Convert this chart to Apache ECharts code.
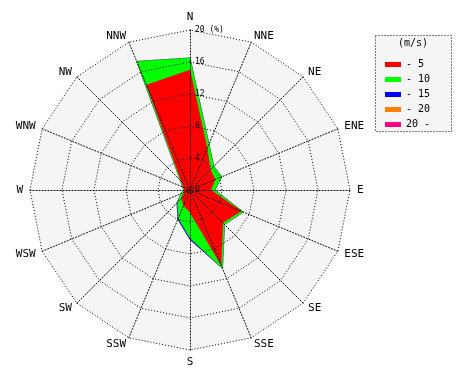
<!DOCTYPE html>
<html>
<head>
<meta charset="utf-8">
<script src="https://cdn.jsdelivr.net/npm/echarts@6/dist/echarts.min.js"></script>
<style>html,body{margin:0;padding:0;background:#fff}#c{width:470px;height:380px}</style>
</head>
<body>
<div id="c"></div>
<script>
// Directions, clockwise from north
const directions = ['N','NNE','NE','ENE','E','ESE','SE','SSE','S','SSW','SW','WSW','W','WNW','NW','NNW'];
// Frequency (%) per speed class (not cumulative)
const speed0to5   = [15.0, 5.6, 3.6, 3.4, 2.6, 6.9, 5.8, 10.1, 2.8, 2.1, 1.5, 0.8, 0.7, 0.85, 1.5, 14.2];
const speed5to10  = [ 1.5, 0.6, 0.6, 0.9, 0.5, 0.3, 0.3,  0.5, 3.2, 1.7, 0.7, 0.4, 0.1, 0.15, 0.2,  3.2];
const speed10to15 = [ 0.0, 0.0, 0.0, 0.0, 0.0, 0.0, 0.0,  0.0, 0.2, 0.15,0.1, 0.0, 0.0, 0.0,  0.0,  0.0];
const speed15to20 = [ 0,0,0,0,0,0,0,0,0,0,0,0,0,0,0,0];
const speed20plus = [ 0,0,0,0,0,0,0,0,0,0,0,0,0,0,0,0];
const classNames = ['- 5','- 10','- 15','- 20','20 -'];
const classColors = ['#ff0000','#00ff00','#0000ff','#ff8000','#ff0080'];
const radialTicks = [0, 4, 8, 12, 16, 20];
const maxPct = 20;

const classes = [speed0to5, speed5to10, speed10to15, speed15to20, speed20plus];
// stack cumulatively
const cum = [];
let run = directions.map(() => 0);
classes.forEach(arr => { run = run.map((v, i) => v + arr[i]); cum.push(run.slice()); });

// radar lays indicators counter-clockwise: reorder so they appear clockwise
const ccwIdx = [0].concat(directions.map((d, i) => i).slice(1).reverse());
const indicator = ccwIdx.map(i => ({ name: directions[i], max: maxPct, min: 0 }));

const mono = 'DejaVu Sans Mono';
const series = [];
for (let k = classes.length - 1; k >= 0; k--) {
  series.push({
    type: 'radar', radarIndex: 0, name: classNames[k], symbol: 'none', z: 2,
    itemStyle: { color: classColors[k] },
    lineStyle: { width: 0.5, color: classColors[k] },
    areaStyle: { color: classColors[k], opacity: 1 },
    data: [{ name: classNames[k], value: ccwIdx.map(i => cum[k][i]), itemStyle: { color: classColors[k] } }]
  });
}

const chart = echarts.init(document.getElementById('c'), null, { renderer: 'canvas' });
chart.setOption({
  animation: false,
  backgroundColor: '#ffffff',
  radar: [
    {
      center: [190, 190], radius: 160, startAngle: 90, splitNumber: 5, shape: 'polygon', z: 0,
      indicator: indicator,
      axisName: { show: false },
      axisLine: { show: false }, splitLine: { show: false },
      splitArea: { show: true, areaStyle: { color: ['#f5f5f5'] } }
    },
    {
      center: [190, 190], radius: 160, startAngle: 90, splitNumber: 5, shape: 'polygon', z: 5,
      indicator: indicator,
      nameGap: 7,
      axisName: { color: '#000', fontFamily: mono, fontSize: 11 },
      axisLine: { show: true, lineStyle: { color: '#000', width: 1, type: [1, 2] } },
      splitLine: { show: true, lineStyle: { color: '#000', width: 1, type: [1, 2] } },
      splitArea: { show: false }
    }
  ],
  polar: { center: [190, 190], radius: 160, z: 6 },
  angleAxis: { type: 'value', min: 0, max: 360, startAngle: 90, show: false },
  radiusAxis: {
    type: 'value', min: 0, max: maxPct, interval: 4, z: 6,
    axisLine: { show: false }, axisTick: { show: false }, splitLine: { show: false },
    axisLabel: {
      inside: true, align: 'left', verticalAlign: 'middle', margin: -5, padding: [0, 0, 5, 0],
      color: '#000', fontFamily: mono, fontSize: 8,
      formatter: v => radialTicks.indexOf(v) >= 0 ? (v === maxPct ? v + ' (%)' : String(v)) : ''
    }
  },
  legend: {
    orient: 'vertical', left: 380, top: 52, itemGap: 0, itemWidth: 16, itemHeight: 5, icon: 'rect',
    data: classNames,
    textStyle: { fontFamily: mono, fontSize: 10, color: '#000', lineHeight: 15 },
    selectedMode: false
  },
  graphic: [
    { type: 'rect', left: 375, top: 35, z: -1, shape: { width: 76, height: 96 },
      style: { fill: '#f5f5f5', stroke: '#000', lineWidth: 1, lineDash: [1, 2] } },
    { type: 'text', left: 398, top: 38, z: 10,
      style: { text: '(m/s)', font: '10px "DejaVu Sans Mono"', fill: '#000' } }
  ],
  series: series
});
</script>
</body>
</html>
